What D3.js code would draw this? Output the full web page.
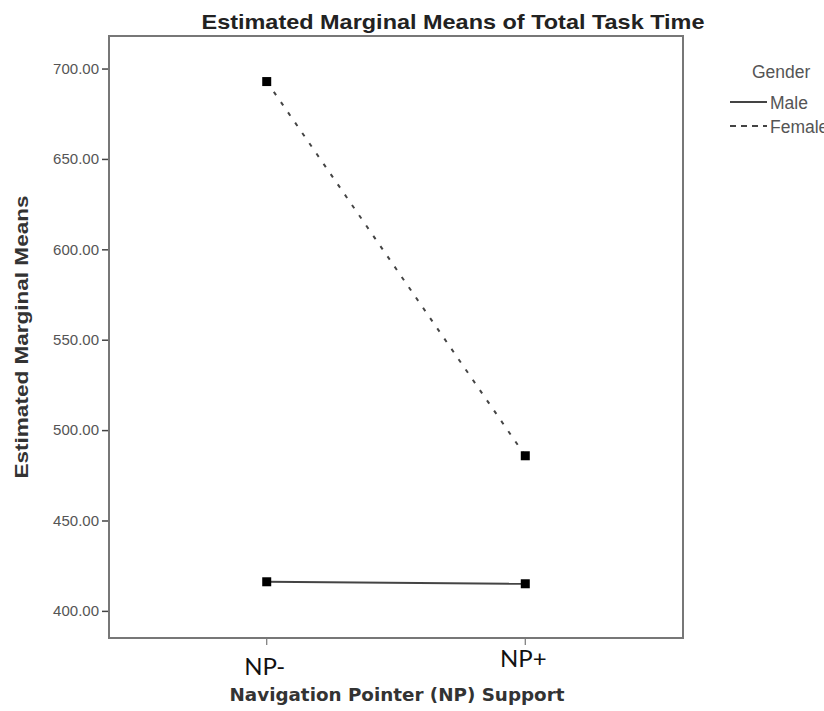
<!DOCTYPE html>
<html lang="en">
<head>
    <meta charset="utf-8">
    <script src="https://d3js.org/d3.v7.min.js"></script>
    <style>
        body { margin: 0; background: #fff; }
        .tick text { font-family: "Liberation Sans", Arial, sans-serif; font-size: 15px; fill: #555; }
    </style>
</head>
<body>
<script type="text/javascript">
    // data
    var categories = ["NP-", "NP+"];
    var genders = ["Male", "Female"];
    var maleMeans = [416.1, 415.0];
    var femaleMeans = [692.8, 485.8];
    var yTicks = [400, 450, 500, 550, 600, 650, 700];

    var width = 824, height = 711;
    var frame = {left: 109, right: 683, top: 36, bottom: 638};

    var svg = d3.select("body").append("svg")
        .attr("width", width)
        .attr("height", height);

    var x = d3.scalePoint()
        .domain(categories)
        .range([frame.left, frame.right])
        .padding(0.61);

    var y = d3.scaleLinear()
        .domain([385, 718])
        .range([frame.bottom, frame.top]);

    // title
    svg.append("text")
        .attr("x", 453)
        .attr("y", 29)
        .attr("text-anchor", "middle")
        .attr("textLength", 503)
        .attr("lengthAdjust", "spacingAndGlyphs")
        .style("font-family", "Liberation Sans, Arial, sans-serif")
        .style("font-weight", "bold")
        .style("font-size", "21px")
        .style("fill", "#222")
        .text("Estimated Marginal Means of Total Task Time");

    // y axis
    var yAxis = svg.append("g")
        .attr("transform", "translate(" + frame.left + ",0)")
        .call(d3.axisLeft(y).tickValues(yTicks).tickFormat(d3.format(".2f")).tickSize(7).tickPadding(3));
    yAxis.select(".domain").remove();
    yAxis.selectAll(".tick line").attr("stroke", "#444").attr("stroke-width", 1.5);

    // x ticks
    svg.append("g")
        .selectAll("line")
        .data(categories)
        .enter().append("line")
        .attr("x1", function (d) { return x(d); })
        .attr("x2", function (d) { return x(d); })
        .attr("y1", frame.bottom)
        .attr("y2", frame.bottom + 7)
        .attr("stroke", "#777")
        .attr("stroke-width", 1.2);

    // frame
    svg.append("rect")
        .attr("x", frame.left)
        .attr("y", frame.top)
        .attr("width", frame.right - frame.left)
        .attr("height", frame.bottom - frame.top)
        .attr("fill", "none")
        .attr("stroke", "#777")
        .attr("stroke-width", 2);

    // x labels (pasted-in style)
    svg.append("g")
        .selectAll("text")
        .data(categories)
        .enter().append("text")
        .attr("x", function (d) { return x(d) - 2; })
        .attr("y", function (d, i) { return i === 0 ? 675 : 667; })
        .attr("text-anchor", "middle")
        .style("font-family", "Lato, 'Open Sans', sans-serif")
        .style("font-size", "24px")
        .style("fill", "#111")
        .text(function (d) { return d; });

    svg.append("text")
        .attr("x", 397)
        .attr("y", 701)
        .attr("text-anchor", "middle")
        .attr("textLength", 335)
        .attr("lengthAdjust", "spacingAndGlyphs")
        .style("font-family", "DejaVu Sans, sans-serif")
        .style("font-weight", "bold")
        .style("font-size", "17px")
        .style("fill", "#333")
        .text("Navigation Pointer (NP) Support");

    svg.append("text")
        .attr("transform", "translate(28," + ((frame.top + frame.bottom) / 2) + ") rotate(-90)")
        .attr("text-anchor", "middle")
        .attr("textLength", 283)
        .attr("lengthAdjust", "spacingAndGlyphs")
        .style("font-family", "Liberation Sans, Arial, sans-serif")
        .style("font-weight", "bold")
        .style("font-size", "19px")
        .style("fill", "#333")
        .text("Estimated Marginal Means");

    // lines
    var series = [
        {name: "Male", values: maleMeans, dash: null},
        {name: "Female", values: femaleMeans, dash: "4,8.5"}
    ];

    var line = d3.line()
        .x(function (d, i) { return x(categories[i]); })
        .y(function (d) { return y(d); });

    svg.selectAll(".series")
        .data(series)
        .enter().append("path")
        .attr("class", "series")
        .attr("d", function (d) { return line(d.values); })
        .attr("fill", "none")
        .attr("stroke", "#444")
        .attr("stroke-width", 2)
        .attr("stroke-dasharray", function (d) { return d.dash; });

    series.forEach(function (s) {
        svg.selectAll(null)
            .data(s.values)
            .enter().append("rect")
            .attr("x", function (d, i) { return x(categories[i]) - 4.5; })
            .attr("y", function (d) { return y(d) - 4.5; })
            .attr("width", 9)
            .attr("height", 9)
            .attr("fill", "#000");
    });

    // legend
    var legend = svg.append("g").attr("transform", "translate(730,0)");
    legend.append("text")
        .attr("x", 22)
        .attr("y", 78)
        .style("font-family", "Liberation Sans, Arial, sans-serif")
        .style("font-size", "17.5px")
        .style("fill", "#555")
        .text("Gender");

    var items = legend.selectAll(".item")
        .data(genders)
        .enter().append("g")
        .attr("class", "item")
        .attr("transform", function (d, i) { return "translate(0," + (102 + i * 24) + ")"; });

    items.append("line")
        .attr("x1", 0)
        .attr("x2", 37)
        .attr("stroke", "#444")
        .attr("stroke-width", 2)
        .attr("stroke-dasharray", function (d, i) { return series[i].dash ? "6,5" : null; });

    items.append("text")
        .attr("x", 40)
        .attr("y", 6.5)
        .style("font-family", "Liberation Sans, Arial, sans-serif")
        .style("font-size", "17.5px")
        .style("fill", "#555")
        .text(function (d) { return d; });
</script>
</body>
</html>
